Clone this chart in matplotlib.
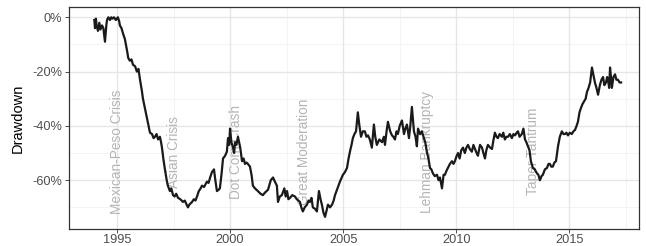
import matplotlib.pyplot as plt
from matplotlib.ticker import FixedLocator, FuncFormatter

# drawdown (in %)
years = [
    1994.00, 1994.03, 1994.07, 1994.10, 1994.16, 1994.22, 1994.27, 1994.34, 1994.40, 1994.47,
    1994.53, 1994.56, 1994.62, 1994.69, 1994.75, 1994.80, 1994.87, 1994.95, 1995.04, 1995.10,
    1995.13, 1995.20, 1995.27, 1995.35, 1995.44, 1995.50, 1995.57, 1995.64, 1995.71, 1995.80,
    1995.88, 1995.95, 1996.02, 1996.10, 1996.15, 1996.25, 1996.33, 1996.40, 1996.46, 1996.55,
    1996.62, 1996.68, 1996.75, 1996.82, 1996.90, 1996.95, 1996.99, 1997.05, 1997.12, 1997.20,
    1997.25, 1997.34, 1997.40, 1997.48, 1997.55, 1997.62, 1997.70, 1997.80, 1997.92, 1998.00,
    1998.08, 1998.14, 1998.20, 1998.26, 1998.32, 1998.40, 1998.47, 1998.54, 1998.62, 1998.70,
    1998.76, 1998.85, 1998.98, 1999.05, 1999.12, 1999.20, 1999.29, 1999.35, 1999.42, 1999.50,
    1999.55, 1999.62, 1999.69, 1999.78, 1999.86, 1999.91, 1999.96, 2000.00, 2000.06, 2000.13,
    2000.18, 2000.22, 2000.28, 2000.35, 2000.45, 2000.53, 2000.60, 2000.66, 2000.73, 2000.79,
    2000.88, 2000.95, 2001.01, 2001.10, 2001.23, 2001.35, 2001.45, 2001.55, 2001.68, 2001.80,
    2001.90, 2001.98, 2002.07, 2002.12, 2002.20, 2002.29, 2002.40, 2002.46, 2002.52, 2002.58,
    2002.65, 2002.75, 2002.87, 2002.95, 2003.09, 2003.15, 2003.22, 2003.30, 2003.40, 2003.47,
    2003.53, 2003.60, 2003.66, 2003.75, 2003.84, 2003.93, 2004.00, 2004.06, 2004.13, 2004.20,
    2004.27, 2004.33, 2004.42, 2004.51, 2004.58, 2004.64, 2004.75, 2004.86, 2004.99, 2005.08,
    2005.17, 2005.24, 2005.30, 2005.37, 2005.43, 2005.50, 2005.57, 2005.65, 2005.72, 2005.79,
    2005.87, 2005.96, 2006.03, 2006.10, 2006.18, 2006.27, 2006.36, 2006.42, 2006.49, 2006.60,
    2006.72, 2006.80, 2006.85, 2006.92, 2006.98, 2007.08, 2007.16, 2007.22, 2007.29, 2007.36,
    2007.42, 2007.50, 2007.60, 2007.69, 2007.75, 2007.82, 2007.91, 2007.97, 2008.04, 2008.09,
    2008.13, 2008.20, 2008.26, 2008.31, 2008.40, 2008.48, 2008.57, 2008.63, 2008.70, 2008.77,
    2008.84, 2008.90, 2008.97, 2009.05, 2009.15, 2009.22, 2009.28, 2009.37, 2009.44, 2009.50,
    2009.57, 2009.63, 2009.72, 2009.81, 2009.88, 2009.94, 2010.02, 2010.08, 2010.15, 2010.22,
    2010.30, 2010.38, 2010.45, 2010.52, 2010.60, 2010.69, 2010.76, 2010.83, 2010.90, 2010.96,
    2011.05, 2011.14, 2011.20, 2011.27, 2011.33, 2011.40, 2011.50, 2011.58, 2011.65, 2011.71,
    2011.78, 2011.84, 2011.92, 2012.02, 2012.08, 2012.15, 2012.22, 2012.29, 2012.37, 2012.46,
    2012.53, 2012.60, 2012.67, 2012.73, 2012.80, 2012.90, 2012.97, 2013.04, 2013.10, 2013.17,
    2013.24, 2013.30, 2013.39, 2013.47, 2013.57, 2013.63, 2013.70, 2013.77, 2013.83, 2013.92,
    2014.01, 2014.08, 2014.14, 2014.20, 2014.27, 2014.34, 2014.41, 2014.46, 2014.50, 2014.58,
    2014.67, 2014.74, 2014.81, 2014.87, 2014.94, 2015.02, 2015.11, 2015.18, 2015.25, 2015.32,
    2015.38, 2015.45, 2015.51, 2015.58, 2015.65, 2015.72, 2015.78, 2015.85, 2015.92, 2016.00,
    2016.06, 2016.13, 2016.20, 2016.27, 2016.35, 2016.42, 2016.49, 2016.55, 2016.62, 2016.67,
    2016.71, 2016.76, 2016.80, 2016.84, 2016.88, 2016.95, 2017.02, 2017.08, 2017.15, 2017.22,
    2017.29,
]
drawdown = [
    -1, -4, -0.5, -3, -5, -2, -4.5, -3, -4, -9,
    -3, -1, 0, -1, 0, -0.5, 0, -1, 0, -1.5,
    -3, -4, -6, -8, -12, -15, -16, -15.5, -17.5, -18,
    -20, -19, -23, -27, -30, -34, -37, -40, -42.5, -43,
    -44.5, -44, -43, -45, -44, -46, -48, -52, -56, -60,
    -62, -64, -63, -65.5, -66, -65, -66.5, -67, -68, -67.5,
    -69, -70, -69, -68.5, -68, -67, -67.5, -66, -64, -63,
    -62, -62.5, -60.5, -61, -59, -57, -56, -60, -64, -63.5,
    -63, -58, -52, -51, -49.5, -44.5, -47, -41, -46, -48,
    -50, -46, -47, -44, -48, -53, -52, -54, -53.5, -54,
    -55, -58, -62, -63, -64, -65, -65.5, -64.5, -63.5, -60,
    -59, -60.5, -62, -68, -66, -65.5, -63, -66, -64, -67,
    -66.5, -65.5, -66, -67, -68, -70, -71.5, -70, -69, -67.5,
    -68, -66.5, -70, -70.5, -71.5, -64, -67, -69, -72, -73.5,
    -71, -69, -70, -69, -67.5, -65.5, -63, -60.5, -58, -57,
    -55.5, -52, -49.5, -47, -44.5, -43, -42, -35, -40, -44,
    -42, -42, -44, -43.5, -45, -48, -39.5, -44, -47, -45,
    -46, -44, -47, -42, -38.5, -42, -43.5, -44, -45, -42,
    -43, -40, -38, -43, -41, -39.5, -44.5, -40, -33, -38,
    -42, -44, -47.5, -41, -43, -42, -44.5, -46, -49.5, -52,
    -55.5, -56, -57.5, -58.5, -58, -60, -59, -63, -58, -58,
    -56.5, -55.5, -54, -53, -54, -53, -51, -50, -52, -49,
    -48, -50, -48, -47, -48.5, -49.5, -47, -48.5, -50, -51,
    -47, -48, -50, -52, -49, -47, -48, -48.5, -45, -42.5,
    -44, -44.5, -43, -44, -42.5, -45, -44, -44, -43, -44.5,
    -43, -43.5, -42.5, -42, -44, -43, -41, -45, -46, -47.5,
    -49, -53, -55.5, -56, -57.5, -58, -60, -58.5, -58, -56,
    -55.5, -54, -54, -55, -55, -53.5, -53, -50, -47.5, -44,
    -42, -43, -43, -42.5, -43.5, -42.5, -43, -42, -41.5, -40,
    -38.5, -35, -33.5, -32, -31, -30, -27.5, -26, -24, -18.5,
    -21, -24, -26, -28.5, -25, -23, -22, -25, -24, -22,
    -23, -26, -18.5, -22, -26, -22, -21, -23, -23, -24,
    -24,
]

events = ["Mexican-Peso Crisis", "Asian Crisis", "Dot Com Crash",
          "Great Moderation", "Lehman Bankruptcy", "Taper Tantrum"]
event_years = [1995.0, 1997.5, 2000.25, 2003.25, 2008.7, 2013.4]

plt.rcParams['font.family'] = ['Liberation Sans', 'DejaVu Sans']

fig = plt.figure(figsize=(6.46, 2.46), dpi=100)
ax = fig.add_axes([69 / 646, 1 - 229 / 246, 570 / 646, 222 / 246])

# grid like theme_bw
for x in [1997.5, 2002.5, 2007.5, 2012.5, 2017.5]:
    ax.axvline(x, color="#f2f2f2", lw=0.6, zorder=0)
for y in [-10, -30, -50, -70]:
    ax.axhline(y, color="#f2f2f2", lw=0.6, zorder=0)
for x in [1995, 2000, 2005, 2010, 2015]:
    ax.axvline(x, color="#e6e6e6", lw=1.0, zorder=0)
for y in [0, -20, -40, -60]:
    ax.axhline(y, color="#e6e6e6", lw=1.0, zorder=0)

for name, yr in zip(events, event_years):
    ax.text(yr, -49.5, name, rotation=90, ha="center", va="center",
            color="#b5b5b5", fontsize=9.8, zorder=1)

ax.plot(years, drawdown, color="#1a1a1a", lw=1.6, zorder=2)

ax.set_xlim(1992.88, 2018.08)
ax.set_ylim(-77.97, 3.79)
ax.xaxis.set_major_locator(FixedLocator([1995, 2000, 2005, 2010, 2015]))
ax.yaxis.set_major_locator(FixedLocator([0, -20, -40, -60]))
ax.yaxis.set_major_formatter(FuncFormatter(lambda v, p: f"{int(v)}%".replace("\u2212", "-")))
ax.tick_params(axis="both", length=3, width=0.6, color="#333333",
               labelcolor="#4d4d4d", labelsize=9.2, pad=2)
ax.tick_params(axis="x", pad=0.5)
for s in ax.spines.values():
    s.set_color("#333333")
    s.set_linewidth(0.9)

ax.set_ylabel("Drawdown", fontsize=10.5, color="black", labelpad=5)

fig.savefig("out.png", dpi=100)
